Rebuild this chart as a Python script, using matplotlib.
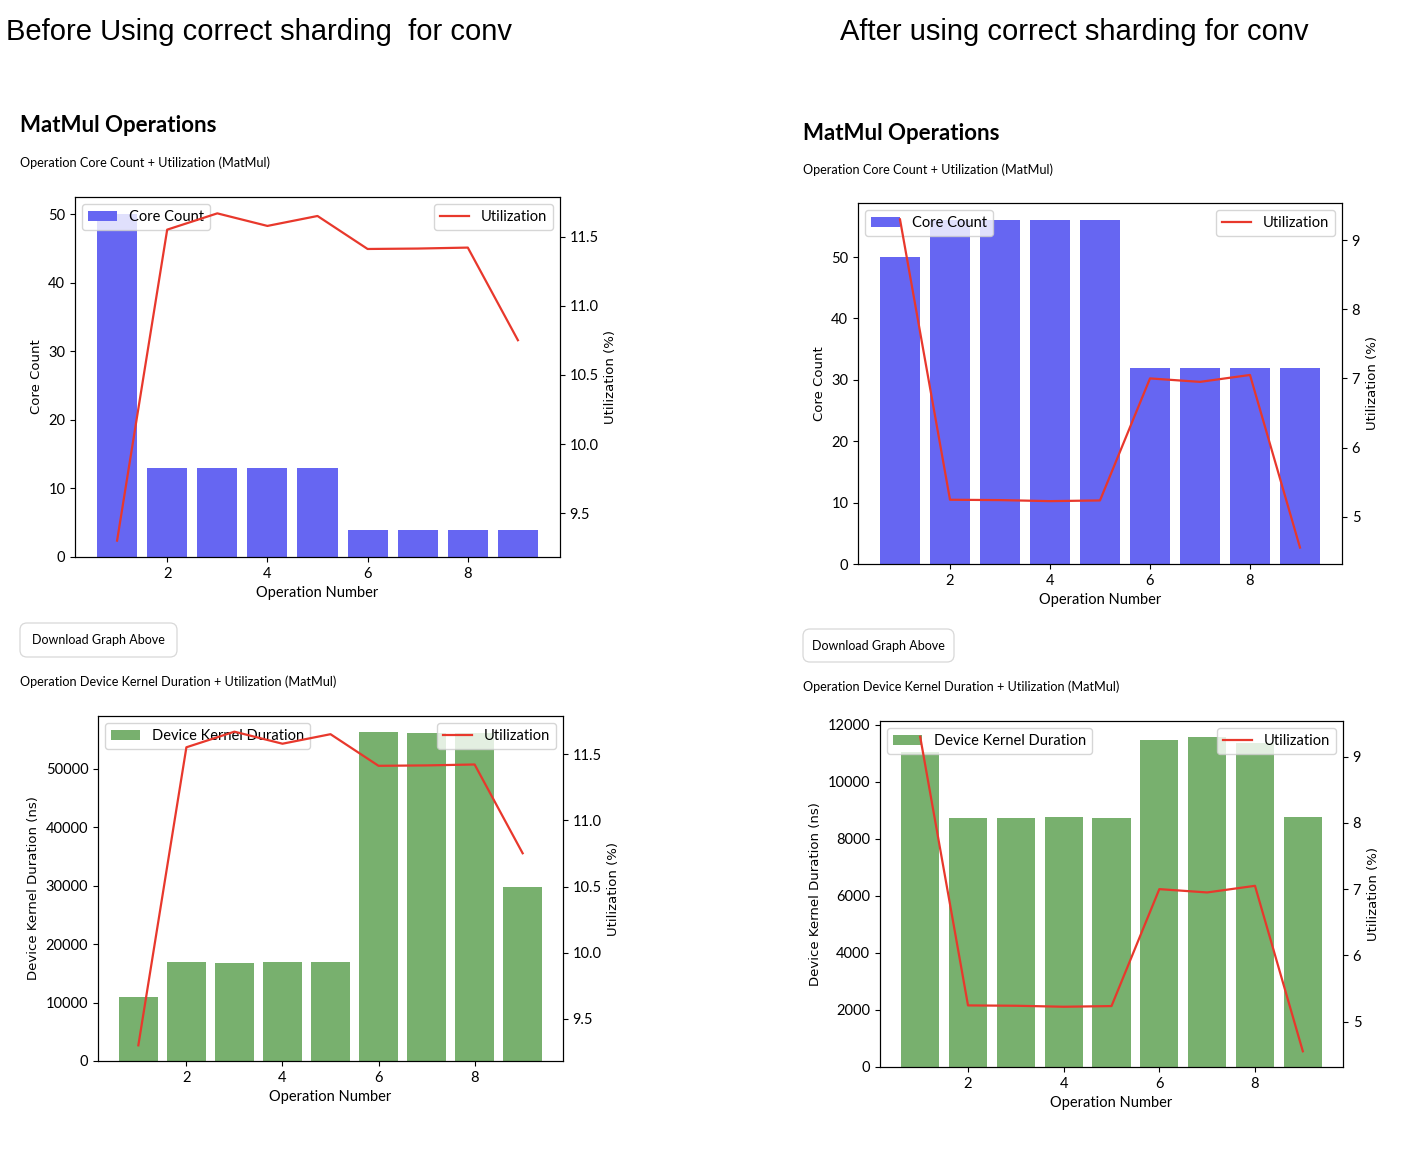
import matplotlib.pyplot as plt
from matplotlib.patches import FancyBboxPatch

# operations and values
ops = [1, 2, 3, 4, 5, 6, 7, 8, 9]

before_core = [50, 13, 13, 13, 13, 4, 4, 4, 4]
before_dur = [10960, 17020, 16850, 16960, 16900, 56230, 56110, 56100, 29740]
before_util = [9.30, 11.553, 11.671, 11.58, 11.652, 11.413, 11.416, 11.423, 10.752]

after_core = [50, 56, 56, 56, 56, 32, 32, 32, 32]
after_dur = [11050, 8717, 8741, 8776, 8741, 11472, 11553, 11367, 8776]
after_util = [9.30, 5.245, 5.24, 5.225, 5.235, 7.0, 6.95, 7.05, 4.553]

W, H = 1426, 1154
BLUE = '#6666f2'
GREEN = '#78b06e'
RED = '#e8382c'
UI_FONT = 'Lato'

fig = plt.figure(figsize=(W / 100, H / 100), dpi=100)


def px_axes(left, top, right, bottom):
    # axes placed by pixel box measured on the screenshot
    return fig.add_axes([left / W, 1 - bottom / H, (right - left) / W, (bottom - top) / H])


def ui_text(x, y, s, **kw):
    fig.text(x / W, 1 - y / H, s, **kw)


def button(x0, y0, x1, y1, label):
    box = FancyBboxPatch((x0 / 100, (H - y1) / 100), (x1 - x0) / 100, (y1 - y0) / 100,
                         boxstyle='round,pad=0,rounding_size=0.07',
                         transform=fig.dpi_scale_trans, fc='white', ec='#d8d8d8', lw=0.9)
    fig.add_artist(box)
    ui_text((x0 + x1) / 2, (y0 + y1) / 2, label, ha='center', va='center',
            family=UI_FONT, fontsize=9)


def combo(box, values, util, color, label, ylabel):
    ax = px_axes(*box)
    ax.bar(ops, values, color=color, label=label)
    ax.set_xlabel('Operation Number', family=UI_FONT, fontsize=10.5)
    ax.set_ylabel(ylabel, fontsize=9.5)
    ax.legend(loc='upper left', prop={'family': UI_FONT, 'size': 10.5})
    ax2 = ax.twinx()
    ax2.plot(ops, util, color=RED, lw=1.6, label='Utilization')
    ax2.set_ylabel('Utilization (%)', fontsize=9.5)
    ax2.legend(loc='upper right', prop={'family': UI_FONT, 'size': 10.5})
    for a in (ax, ax2):
        for t in a.get_xticklabels() + a.get_yticklabels():
            t.set_family(UI_FONT)
            t.set_fontsize(10.5)
    return ax, ax2


# page headings
ui_text(6, 40, 'Before Using correct sharding  for conv', family='Liberation Sans',
        fontsize=21, va='baseline')
ui_text(840, 40, 'After using correct sharding for conv', family='Liberation Sans',
        fontsize=21, va='baseline')

# left column (before)
ui_text(20, 125, 'MatMul Operations', family=UI_FONT, fontsize=16, weight='bold', va='center')
ui_text(20, 163, 'Operation Core Count + Utilization (MatMul)', family=UI_FONT,
        fontsize=9.1, va='center')
combo((75, 197, 560, 557), before_core, before_util, BLUE, 'Core Count', 'Core Count')
button(20, 623, 177, 657, 'Download Graph Above')
ui_text(20, 682, 'Operation Device Kernel Duration + Utilization (MatMul)', family=UI_FONT,
        fontsize=9.1, va='center')
combo((98, 716, 563, 1061), before_dur, before_util, GREEN, 'Device Kernel Duration',
      'Device Kernel Duration (ns)')

# right column (after)
ui_text(803, 133, 'MatMul Operations', family=UI_FONT, fontsize=16, weight='bold', va='center')
ui_text(803, 170, 'Operation Core Count + Utilization (MatMul)', family=UI_FONT,
        fontsize=9.1, va='center')
combo((858, 203, 1342, 564), after_core, after_util, BLUE, 'Core Count', 'Core Count')
button(803, 629, 954, 662, 'Download Graph Above')
ui_text(803, 687, 'Operation Device Kernel Duration + Utilization (MatMul)', family=UI_FONT,
        fontsize=9.1, va='center')
combo((880, 721, 1343, 1067), after_dur, after_util, GREEN, 'Device Kernel Duration',
      'Device Kernel Duration (ns)')

fig.savefig('out.png', dpi=100, facecolor='white')
